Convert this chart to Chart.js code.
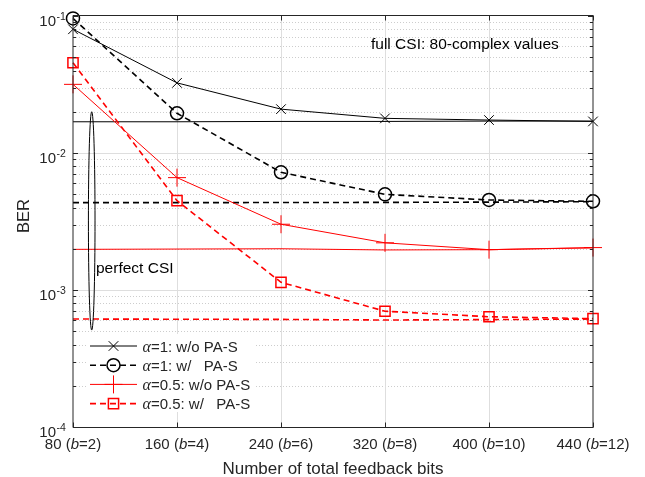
<!DOCTYPE html>
<html>
<head>
<meta charset="utf-8">
<script src="https://cdn.jsdelivr.net/npm/chart.js@4.4.0/dist/chart.umd.min.js"></script>
<style>
  html, body { margin: 0; padding: 0; background: #ffffff; }
  #wrap { width: 645px; height: 477px; }
</style>
</head>
<body>
<div id="wrap"><canvas id="c" width="645" height="477"></canvas></div>
<script>
// Feedback budget (x categories); the "b" is set in italics when drawn
const categories = ['80 (b=2)', '160 (b=4)', '240 (b=6)', '320 (b=8)', '400 (b=10)', '440 (b=12)'];

// BER with quantized feedback
const alpha1NoPA  = [0.080, 0.0325, 0.0209, 0.0179, 0.0174, 0.0170];
const alpha1PA    = [0.096, 0.0195, 0.00723, 0.00499, 0.00454, 0.00444];
const alpha05NoPA = [0.0317, 0.00661, 0.00302, 0.00221, 0.00197, 0.00204];
const alpha05PA   = [0.0456, 0.00449, 0.001138, 0.000700, 0.000638, 0.000618];

// BER with perfect CSI (reference levels)
const alpha1NoPAPerfect  = [0.0169, 0.0169, 0.0170, 0.0170, 0.0171, 0.0171];
const alpha1PAPerfect    = [0.00434, 0.00434, 0.00435, 0.00436, 0.00438, 0.00441];
const alpha05NoPAPerfect = [0.00198, 0.00199, 0.00200, 0.00196, 0.00197, 0.00203];
const alpha05PAPerfect   = [0.000614, 0.000612, 0.000610, 0.000604, 0.000608, 0.000614];

const seriesLabels = ['α=1: w/o PA-S', 'α=1: w/   PA-S', 'α=0.5: w/o PA-S', 'α=0.5: w/   PA-S'];

// Decade ticks of the BER axis
const yTickValues = [1e-4, 1e-3, 1e-2, 1e-1];
const yTickExponents = ['-4', '-3', '-2', '-1'];

const xTitle = 'Number of total feedback bits';
const yTitle = 'BER';
const noteFull = 'full CSI: 80-complex values';
const notePerfect = 'perfect CSI';

const SANS = "'Liberation Sans', Arial, Helvetica, sans-serif";
const SERIF = "'Liberation Serif', 'Times New Roman', serif";
const TEXT = '#262626';
const RED = '#ff0000';
const BLACK = '#000000';

function drawParts(ctx, parts, x, y, align) {
  let w = 0;
  parts.forEach(p => { ctx.font = p.font; w += ctx.measureText(p.text).width; });
  let cx = align === 'center' ? x - w / 2 : (align === 'right' ? x - w : x);
  ctx.textAlign = 'left';
  parts.forEach(p => {
    ctx.font = p.font;
    ctx.fillText(p.text, cx, y);
    cx += ctx.measureText(p.text).width;
  });
}

function tickParts(label) {
  const i = label.indexOf('b');
  const f = '15px ' + SANS;
  return [
    { text: label.slice(0, i), font: f },
    { text: 'b', font: 'italic 15px ' + SANS },
    { text: label.slice(i + 1), font: f }
  ];
}

function legendParts(label) {
  return [
    { text: label.charAt(0), font: 'italic 16px ' + SERIF },
    { text: label.slice(1), font: '15px ' + SANS }
  ];
}

const frame = {
  id: 'frame',
  beforeDatasetsDraw(chart) {
    const { ctx, chartArea: a, scales: { x, y } } = chart;
    ctx.save();
    // minor grid (dotted)
    ctx.lineWidth = 1;
    ctx.strokeStyle = '#cdcdcd';
    ctx.setLineDash([1, 2]);
    for (let e = -4; e <= -2; e++) {
      for (let m = 2; m <= 9; m++) {
        const py = Math.round(y.getPixelForValue(m * Math.pow(10, e))) + 0.5;
        ctx.beginPath(); ctx.moveTo(a.left, py); ctx.lineTo(a.right, py); ctx.stroke();
      }
    }
    ctx.setLineDash([]);
    // major grid
    ctx.strokeStyle = '#dedede';
    yTickValues.slice(1, -1).forEach(v => {
      const py = Math.round(y.getPixelForValue(v)) + 0.5;
      ctx.beginPath(); ctx.moveTo(a.left, py); ctx.lineTo(a.right, py); ctx.stroke();
    });
    for (let i = 1; i < categories.length - 1; i++) {
      const px = Math.round(x.getPixelForValue(i)) + 0.5;
      ctx.beginPath(); ctx.moveTo(px, a.top); ctx.lineTo(px, a.bottom); ctx.stroke();
    }
    ctx.restore();
  },
  afterDatasetsDraw(chart) {
    const { ctx, chartArea: a, scales: { x, y } } = chart;
    ctx.save();
    const top = a.top - 0.5, bottom = a.bottom + 0.5;

    // axes box
    ctx.strokeStyle = TEXT;
    ctx.lineWidth = 1;
    ctx.beginPath();
    ctx.moveTo(a.left, top); ctx.lineTo(a.right, top);
    ctx.moveTo(a.left, bottom); ctx.lineTo(a.right, bottom);
    ctx.moveTo(a.left, top); ctx.lineTo(a.left, bottom);
    ctx.moveTo(a.right, top); ctx.lineTo(a.right, bottom);
    ctx.stroke();

    // ticks
    ctx.beginPath();
    for (let i = 0; i < categories.length; i++) {
      const px = Math.round(x.getPixelForValue(i)) + 0.5;
      ctx.moveTo(px, bottom); ctx.lineTo(px, bottom - 5);
      ctx.moveTo(px, top); ctx.lineTo(px, top + 5);
    }
    for (let e = -4; e <= -1; e++) {
      for (let m = 1; m <= 9; m++) {
        if (e === -1 && m > 1) break;
        const v = m * Math.pow(10, e);
        const py = Math.round(y.getPixelForValue(v)) + 0.5;
        const len = m === 1 ? 5 : 3;
        ctx.moveTo(a.left, py); ctx.lineTo(a.left + len, py);
        ctx.moveTo(a.right, py); ctx.lineTo(a.right - len, py);
      }
    }
    ctx.stroke();

    // tick labels
    ctx.fillStyle = TEXT;
    ctx.textBaseline = 'alphabetic';
    categories.forEach((lab, i) => {
      drawParts(ctx, tickParts(lab), x.getPixelForValue(i), 449, 'center');
    });
    yTickValues.forEach((v, i) => {
      const py = y.getPixelForValue(v);
      ctx.font = '15px ' + SANS;
      ctx.textAlign = 'right';
      ctx.fillText('10', 56, py + 9.5);
      ctx.font = '10.5px ' + SANS;
      ctx.textAlign = 'left';
      ctx.fillText(yTickExponents[i], 56.5, py + 3.5);
    });

    // axis titles
    ctx.font = '17px ' + SANS;
    ctx.textAlign = 'center';
    ctx.fillText(xTitle, (a.left + a.right) / 2, 474);
    ctx.save();
    ctx.translate(29, 216);
    ctx.rotate(-Math.PI / 2);
    ctx.font = '16.5px ' + SANS;
    ctx.fillText(yTitle, 0, 0);
    ctx.restore();

    // perfect-CSI ellipse around the reference levels
    const ex = x.getPixelForValue(0.18);
    const ey1 = y.getPixelForValue(0.0200);
    const ey2 = y.getPixelForValue(0.00051);
    ctx.strokeStyle = BLACK;
    ctx.lineWidth = 1;
    ctx.beginPath();
    ctx.ellipse(ex, (ey1 + ey2) / 2, 3.3, (ey2 - ey1) / 2, 0, 0, Math.PI * 2);
    ctx.stroke();

    ctx.fillStyle = '#000000';
    ctx.font = '15.5px ' + SANS;
    ctx.textAlign = 'left';
    ctx.fillText(notePerfect, a.left + 23, 273);
    ctx.fillText(noteFull, 371, 49);

    // legend
    const lx = 88, ly = 334, lw = 168, lh = 78;
    ctx.fillStyle = '#ffffff';
    ctx.fillRect(lx, ly, lw, lh);
    chart.data.datasets.slice(0, seriesLabels.length).forEach((ds, i) => {
      const ry = 346 + i * 19.2;
      ctx.save();
      ctx.strokeStyle = ds.borderColor;
      ctx.lineWidth = ds.borderWidth;
      ctx.setLineDash(ds.borderDash || []);
      ctx.beginPath(); ctx.moveTo(90, ry); ctx.lineTo(137, ry); ctx.stroke();
      ctx.setLineDash([]);
      ctx.fillStyle = 'rgba(0,0,0,0)';
      ctx.lineWidth = ds.pointBorderWidth;
      Chart.helpers.drawPoint(ctx, { pointStyle: ds.pointStyle, rotation: 0, radius: ds.pointRadius, borderWidth: ds.pointBorderWidth }, 113.5, ry);
      ctx.restore();
      ctx.fillStyle = TEXT;
      drawParts(ctx, legendParts(ds.label), 142.5, ry + 5.5, 'left');
    });
    ctx.restore();
  }
};

function series(label, data, color, dashed, style, radius, pw) {
  return {
    label, data,
    borderColor: color,
    borderWidth: dashed ? 1.6 : 1,
    borderDash: dashed ? [6, 4] : [],
    pointStyle: style,
    pointRadius: radius,
    pointBorderWidth: pw,
    pointBorderColor: color,
    pointBackgroundColor: 'rgba(0,0,0,0)',
    fill: false,
    tension: 0,
    clip: false
  };
}

const datasets = [
  series(seriesLabels[0], alpha1NoPA, BLACK, false, 'crossRot', 6.8, 1),
  series(seriesLabels[1], alpha1PA, BLACK, true, 'circle', 6.5, 1.5),
  series(seriesLabels[2], alpha05NoPA, RED, false, 'cross', 9, 1),
  series(seriesLabels[3], alpha05PA, RED, true, 'rect', 7.2, 1.5),
  series('', alpha1NoPAPerfect, BLACK, false, false, 0, 0),
  series('', alpha1PAPerfect, BLACK, true, false, 0, 0),
  series('', alpha05NoPAPerfect, RED, false, false, 0, 0),
  series('', alpha05PAPerfect, RED, true, false, 0, 0)
];

new Chart(document.getElementById('c'), {
  type: 'line',
  data: { labels: categories, datasets },
  options: {
    responsive: false,
    animation: false,
    devicePixelRatio: 1,
    layout: { padding: { left: 0, right: 52, top: 16, bottom: 0 } },
    plugins: { legend: { display: false }, tooltip: { enabled: false } },
    scales: {
      x: {
        type: 'category',
        offset: false,
        grid: { display: false },
        border: { display: false },
        ticks: { display: false },
        afterFit(scale) { scale.height = 50; }
      },
      y: {
        type: 'logarithmic',
        min: 1e-4,
        max: 1e-1,
        grid: { display: false },
        border: { display: false },
        ticks: { display: false },
        afterFit(scale) { scale.width = 73; }
      }
    }
  },
  plugins: [frame]
});
</script>
</body>
</html>
